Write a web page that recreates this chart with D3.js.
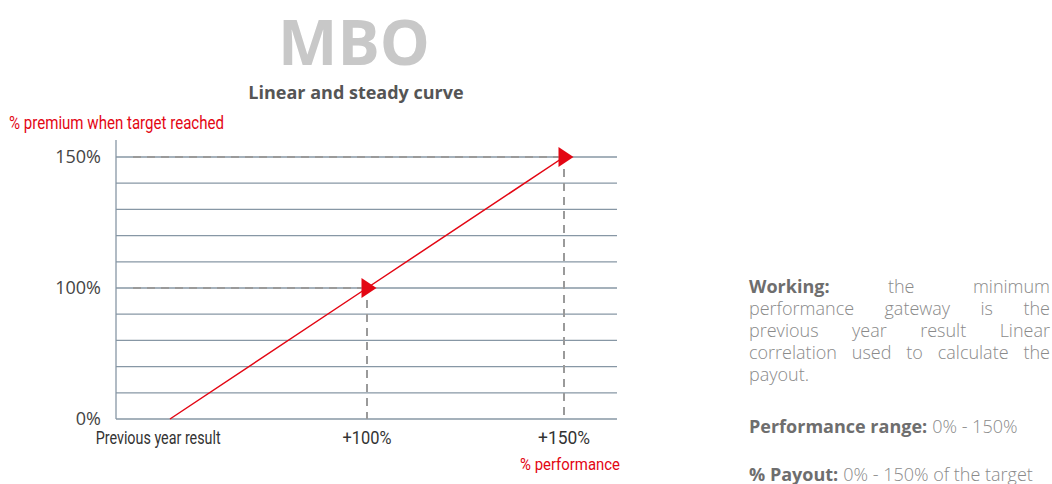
<!DOCTYPE html>
<html>
<head>
<meta charset="utf-8">
<script src="https://cdn.jsdelivr.net/npm/d3@7"></script>
<style>
body{margin:0;background:#fff;}
.cond{font-family:"Roboto","Noto Sans",sans-serif;}
.sans{font-family:"Open Sans",sans-serif;}
</style>
</head>
<body>
<svg id="chart"></svg>
<script>
// data
var perf=[50,100,150]          // % performance
var premium=[0,100,150]        // % premium
var markerIdx=[1,2]
var yGrid=[0,20,40,60,80,100,110,120,130,140,150]
var yTicks=[0,100,150]
var xTicks=[47,100,150]
var xTickLabels=["Previous year result","+100%","+150%"]
var xTickWidths=[125,49,52]

var paragraphs=[
    {top:293,lines:[[["Working:",true],["the",false],["minimum",false]],
        [["performance",false],["gateway",false],["is",false],["the",false]],
        [["previous",false],["year",false],["result",false],["Linear",false]],
        [["correlation",false],["used",false],["to",false],["calculate",false],["the",false]],
        [["payout.",false]]],justify:true},
    {top:433,lines:[[["Performance range:",true],["0% - 150%",false]]],justify:false},
    {top:481,lines:[[["% Payout:",true],["0% - 150% of the target",false]]],justify:false}
]

var screen={width:1052,height:484}
var red="#e30613"
var gridCol="#8797a5"

var svg=d3.select("#chart")
    .attr("width",screen.width)
    .attr("height",screen.height)

var xScale=d3.scaleLinear()
    .domain([50,150])
    .range([170,564])
var yScale=d3.scaleLinear()
    .domain([0,100,150])
    .range([419,288,157])

//titles
svg.append("text")
    .text("MBO")
    .classed("sans",true)
    .attr("x",354).attr("y",65)
    .attr("text-anchor","middle")
    .attr("font-size",63).attr("font-weight","bold")
    .attr("fill","#c8c8c8")
svg.append("text")
    .text("Linear and steady curve")
    .classed("sans",true)
    .attr("x",356).attr("y",99)
    .attr("text-anchor","middle")
    .attr("font-size",18).attr("font-weight","bold")
    .attr("fill","#555")
svg.append("text")
    .text("% premium when target reached")
    .classed("cond",true)
    .attr("x",9).attr("y",129)
    .attr("font-size",18)
    .attr("textLength",215).attr("lengthAdjust","spacingAndGlyphs")
    .attr("fill",red)
svg.append("text")
    .text("% performance")
    .classed("cond",true)
    .attr("x",520).attr("y",470)
    .attr("font-size",17)
    .attr("textLength",100).attr("lengthAdjust","spacingAndGlyphs")
    .attr("fill",red)

//grid
var grid=svg.append("g")
grid.selectAll("line")
    .data(yGrid)
    .enter()
    .append("line")
    .attr("x1",116).attr("x2",617)
    .attr("y1",function(d){return yScale(d)})
    .attr("y2",function(d){return yScale(d)})
    .attr("stroke",gridCol)
    .attr("stroke-width",1.3)
svg.append("line")
    .attr("x1",116).attr("x2",116)
    .attr("y1",140).attr("y2",yScale(0))
    .attr("stroke",gridCol)
    .attr("stroke-width",1.3)

//y ticks
svg.append("g").selectAll("text")
    .data(yTicks)
    .enter()
    .append("text")
    .text(function(d){return d+"%"})
    .classed("sans",true)
    .attr("x",101)
    .attr("y",function(d){return yScale(d)+6})
    .attr("text-anchor","end")
    .attr("font-size",18)
    .attr("fill","#444")

//x ticks
svg.append("g").selectAll("text")
    .data(xTicks)
    .enter()
    .append("text")
    .text(function(d,i){return xTickLabels[i]})
    .classed("cond",true)
    .attr("x",function(d,i){return xScale(d)-xTickWidths[i]/2})
    .attr("y",444)
    .attr("font-size",18)
    .attr("textLength",function(d,i){return xTickWidths[i]})
    .attr("lengthAdjust","spacingAndGlyphs")
    .attr("fill","#333")

//dashed guides
var guides=svg.append("g")
    .attr("stroke","#9a9a9a")
    .attr("stroke-width",2)
    .attr("stroke-dasharray","8,6")
markerIdx.forEach(function(i){
    var px=xScale(perf[i]),py=yScale(premium[i])
    guides.append("line")
        .attr("x1",133).attr("x2",px-6)
        .attr("y1",py).attr("y2",py)
    guides.append("line")
        .attr("x1",px).attr("x2",px)
        .attr("y1",py+12).attr("y2",yScale(0))
})

//curve
var lineGenerator=d3.line()
    .x(function(d,i){return xScale(perf[i])})
    .y(function(d){return yScale(d)})
svg.append("path")
    .datum(premium)
    .attr("d",lineGenerator)
    .attr("fill","none")
    .attr("stroke",red)
    .attr("stroke-width",1.5)

svg.append("g").selectAll("path")
    .data(markerIdx)
    .enter()
    .append("path")
    .attr("d",function(i){
        var px=xScale(perf[i])+0.5,py=yScale(premium[i])
        return "M"+(px-6)+","+(py-10)+"L"+(px+9)+","+py+"L"+(px-6)+","+(py+10)+"Z"
    })
    .attr("fill",red)

//side text
var left=749,right=1050,lh=22
paragraphs.forEach(function(p){
    p.lines.forEach(function(line,li){
        var y=p.top+li*lh
        var words=line.map(function(w){
            return svg.append("text")
                .text(w[0])
                .classed("sans",true)
                .attr("y",y)
                .attr("font-size",18)
                .attr("font-weight",w[1]?"bold":"300")
                .attr("fill",w[1]?"#6e6e6e":"#8a8a8a")
        })
        var widths=words.map(function(t){return t.node().getComputedTextLength()})
        var total=d3.sum(widths)
        var last=li==p.lines.length-1
        var gap=(p.justify&&!last&&words.length>1)?(right-left-total)/(words.length-1):5
        var x=left
        words.forEach(function(t,k){
            t.attr("x",x)
            x+=widths[k]+gap
        })
    })
})
</script>
</body>
</html>
